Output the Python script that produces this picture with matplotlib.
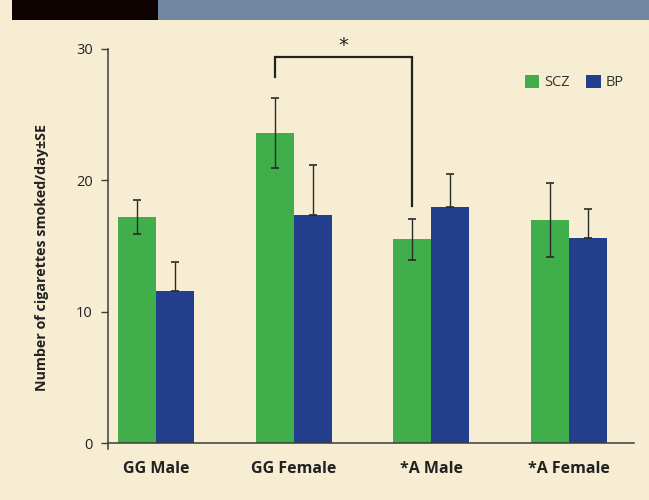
import matplotlib.pyplot as plt
from matplotlib.patches import Rectangle
import numpy as np

plt.rcParams['font.family'] = ['Open Sans', 'DejaVu Sans']

# data
groups = ["GG Male", "GG Female", "*A Male", "*A Female"]
scz_mean = [17.2, 23.6, 15.5, 17.0]
scz_se = [1.3, 2.65, 1.55, 2.8]
bp_mean = [11.6, 17.4, 18.0, 15.6]
bp_se = [2.2, 3.8, 2.5, 2.2]
y_ticks = [0, 10, 20, 30]

bg = "#F7EDD2"
green = "#40AE4A"
blue = "#233E8C"
dark = "#2a2a2a"

fig = plt.figure(figsize=(6.49, 5.0), dpi=100, facecolor=bg)

# header band
fig.patches.append(Rectangle((0.0185, 0.96), 0.225, 0.04, transform=fig.transFigure,
                             facecolor="#0E0300", edgecolor="none"))
fig.patches.append(Rectangle((0.2435, 0.96), 0.7565, 0.04, transform=fig.transFigure,
                             facecolor="#6F879F", edgecolor="none"))

ax = fig.add_axes([0.1664, 0.102, 0.8105, 0.80])
ax.set_facecolor(bg)

x = np.arange(len(groups))
w = 0.276

ax.bar(x - w / 2, scz_mean, w, color=green, label="SCZ", zorder=2)
ax.bar(x + w / 2, bp_mean, w, color=blue, label="BP", zorder=2)

ax.errorbar(x - w / 2, scz_mean, yerr=scz_se, fmt="none", ecolor=dark,
            elinewidth=1.0, capsize=2.6, capthick=1.2, zorder=3)
ax.errorbar(x + w / 2, bp_mean, yerr=[np.zeros(len(bp_se)), bp_se], fmt="none",
            ecolor=dark, elinewidth=1.0, capsize=2.6, capthick=1.2, zorder=3)

# significance bracket between GG Female SCZ and *A Male SCZ
bx = [1 - w / 2, 1 - w / 2, 2 - w / 2, 2 - w / 2]
by = [27.85, 29.37, 29.37, 18.05]
ax.plot(bx, by, color="#222222", lw=1.6, solid_joinstyle="miter", zorder=4, clip_on=False)
ax.text(1.5 - w / 2, 30.3, "*", ha="center", va="center", fontsize=14,
        family="DejaVu Sans", color="#222222", clip_on=False)

ax.set_xlim(-0.348, 3.471)
ax.set_ylim(-0.45, 30)
ax.set_yticks(y_ticks)
ax.tick_params(axis="y", length=5, width=1.0, color="#3c3c3c", labelsize=10.5,
               labelcolor="#222222", pad=6)

# category labels as plain text so the bold weight sticks
ax.set_xticks([])
for xi, name in zip(x, groups):
    ax.text(xi, -0.049, name, transform=ax.get_xaxis_transform(), ha="center",
            va="center", fontsize=11.5, fontweight="bold", color="#222222")

for side in ["top", "right"]:
    ax.spines[side].set_visible(False)
ax.spines["bottom"].set_position(("data", 0))
for side in ["left", "bottom"]:
    ax.spines[side].set_color("#3c3c3c")
    ax.spines[side].set_linewidth(1.1)

ax.set_ylabel("Number of cigarettes smoked/day\u00b1SE", fontweight="bold",
              fontsize=10.3, color="#222222")
ax.yaxis.set_label_coords(-0.112, 0.478)

leg = ax.legend(loc="upper right", bbox_to_anchor=(0.992, 0.95), ncol=2, frameon=False,
                fontsize=10.5, handlelength=1.0, handleheight=1.0, handletextpad=0.35,
                columnspacing=1.1, borderaxespad=0)
for t in leg.get_texts():
    t.set_color("#333333")

fig.savefig("out.png", dpi=100, facecolor=bg)
